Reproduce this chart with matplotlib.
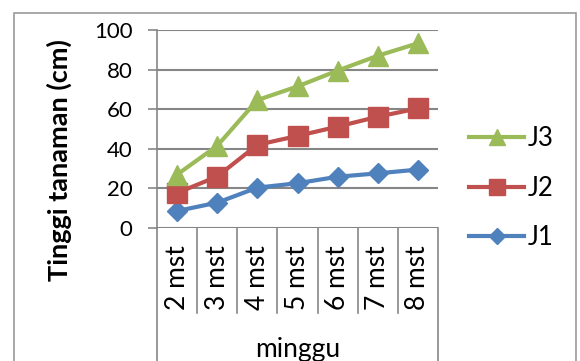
import matplotlib.pyplot as plt
from matplotlib.patches import Rectangle
from matplotlib.lines import Line2D

plt.rcParams['font.family'] = ['Lato', 'DejaVu Sans']

# Data tinggi tanaman per minggu
minggu = ['2 mst', '3 mst', '4 mst', '5 mst', '6 mst', '7 mst', '8 mst']
j1 = [8.6, 12.8, 20.4, 22.6, 25.9, 27.6, 29.5]
j2 = [17.7, 26.0, 42.0, 46.5, 51.2, 56.2, 60.4]
j3 = [27.0, 41.5, 64.6, 71.5, 79.5, 87.0, 93.3]

grid_col = '#868686'

fig = plt.figure(figsize=(5.8, 3.61), dpi=100)
# bingkai luar chart
fig.patches.append(Rectangle((14/580, -0.2), 562/580, 1.2 - 13/361, transform=fig.transFigure,
                             fill=False, edgecolor='#9a9a9a', linewidth=1.2))

ax = fig.add_axes([157/580, 1 - 228/361, 281/580, 198/361])
x = range(len(minggu))

ax.plot(x, j1, color='#4F81BD', linewidth=3, marker='D', markersize=10, label='J1', zorder=3)
ax.plot(x, j2, color='#C0504D', linewidth=3, marker='s', markersize=14, label='J2', zorder=3)
ax.plot(x, j3, color='#9BBB59', linewidth=3, marker='^', markersize=15, label='J3', zorder=3)

ax.set_xlim(-0.5, len(minggu) - 0.5)
ax.set_ylim(0, 100)
ax.set_yticks(range(0, 101, 20))
ax.yaxis.grid(True, color=grid_col, linewidth=1.5)
ax.set_axisbelow(True)
ax.tick_params(axis='y', direction='out', length=6.5, width=1.2, color=grid_col,
               labelsize=16, pad=11)
ax.set_xticks([])
for s in ['top', 'right', 'bottom']:
    ax.spines[s].set_visible(False)
ax.spines['left'].set_color(grid_col)
ax.spines['left'].set_linewidth(1.2)
ax.set_ylabel('Tinggi tanaman (cm)', fontsize=19.5, fontweight='bold')
ax.yaxis.set_label_coords(-0.302, 0.343)

# sumbu kategori bertingkat di bawah plot
tr = ax.get_xaxis_transform()
for i in range(len(minggu) + 1):
    bawah = -0.7 if i in (0, len(minggu)) else -0.43
    ax.add_line(Line2D([i - 0.5, i - 0.5], [0, bawah], transform=tr, color=grid_col,
                       linewidth=1.2, clip_on=False))
for i, lbl in enumerate(minggu):
    ax.text(i, -0.25, lbl, transform=tr, rotation=90, ha='center', va='center', fontsize=19)
ax.text((len(minggu) - 1) / 2, -0.615, 'minggu', transform=tr, ha='center', va='center', fontsize=19)

h, l = ax.get_legend_handles_labels()
fig.legend(h[::-1], l[::-1], loc='center left', bbox_to_anchor=(469/580, 1 - 188/361),
           frameon=False, fontsize=18.5, handlelength=2.15, handletextpad=0.15,
           labelspacing=0.95, markerscale=0.8, borderpad=0, borderaxespad=0)

fig.savefig('out.png', dpi=100)
